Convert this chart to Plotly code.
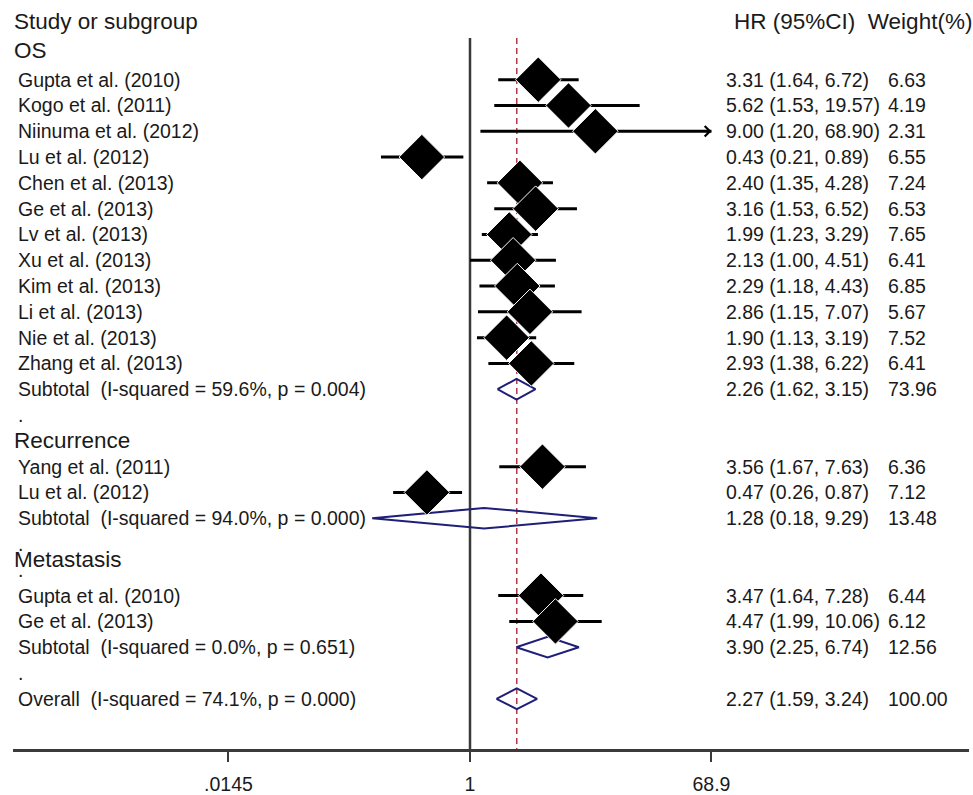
import math
import plotly.graph_objects as go

# ---------------- data ----------------
os_studies = ["Gupta et al. (2010)", "Kogo et al. (2011)", "Niinuma et al. (2012)", "Lu et al. (2012)",
              "Chen et al. (2013)", "Ge et al. (2013)", "Lv et al. (2013)", "Xu et al. (2013)",
              "Kim et al. (2013)", "Li et al. (2013)", "Nie et al. (2013)", "Zhang et al. (2013)"]
os_hr = [3.31, 5.62, 9.00, 0.43, 2.40, 3.16, 1.99, 2.13, 2.29, 2.86, 1.90, 2.93]
os_lo = [1.64, 1.53, 1.20, 0.21, 1.35, 1.53, 1.23, 1.00, 1.18, 1.15, 1.13, 1.38]
os_hi = [6.72, 19.57, 68.90, 0.89, 4.28, 6.52, 3.29, 4.51, 4.43, 7.07, 3.19, 6.22]
os_wt = [6.63, 4.19, 2.31, 6.55, 7.24, 6.53, 7.65, 6.41, 6.85, 5.67, 7.52, 6.41]

rec_studies = ["Yang et al. (2011)", "Lu et al. (2012)"]
rec_hr = [3.56, 0.47]
rec_lo = [1.67, 0.26]
rec_hi = [7.63, 0.87]
rec_wt = [6.36, 7.12]

met_studies = ["Gupta et al. (2010)", "Ge et al. (2013)"]
met_hr = [3.47, 4.47]
met_lo = [1.64, 1.99]
met_hi = [7.28, 10.06]
met_wt = [6.44, 6.12]

subgroup_names = ["OS", "Recurrence", "Metastasis"]
sub_hr = [2.26, 1.28, 3.90]
sub_lo = [1.62, 0.18, 2.25]
sub_hi = [3.15, 9.29, 6.74]
sub_wt = [73.96, 13.48, 12.56]
sub_i2 = [59.6, 94.0, 0.0]
sub_p = [0.004, 0.000, 0.651]

overall_hr = 2.27
overall_lo = 1.59
overall_hi = 3.24
overall_wt = 100.00
overall_i2 = 74.1
overall_p = 0.000

tick_vals = [0.0145, 1, 68.9]
tick_text = [".0145", "1", "68.9"]

# ---------------- layout constants ----------------
W, H = 973, 795
ML, MR, MT, MB = 13, 4, 0, 43
PX_ONE = 470.0
PX_PER_DEC = 131.36
ROW0_PX = 80.0
ROW_H = 25.9

group_start = [0, 15, 20]
heading_rows = [-1.15, 14.0, 18.6]
dot_rows = [13, 18, 19, 23]
overall_row = 24
title_row = -2.24
line_top_row = -1.62
DIAM_H = 0.40

FONT = "Liberation Sans, Arial, sans-serif"
LBL = 19.5
HDR = 22.5
TXT = "#1a1a1a"
NAVY = "#1f1f78"
AXC = "#3a3a3a"

plot_w = W - ML - MR
x_lo = -(PX_ONE - ML) / PX_PER_DEC
x_hi = (W - MR - PX_ONE) / PX_PER_DEC
y_top = (MT - ROW0_PX) / ROW_H
y_bot = (H - MB - ROW0_PX) / ROW_H


def px2paper(px):
    return (px - ML) / plot_w


groups = [
    (os_studies, os_hr, os_lo, os_hi, os_wt),
    (rec_studies, rec_hr, rec_lo, rec_hi, rec_wt),
    (met_studies, met_hr, met_lo, met_hi, met_wt),
]

fig = go.Figure()

# reference line at HR = 1 and dashed overall line
fig.add_trace(go.Scatter(x=[1, 1], y=[line_top_row, y_bot], mode="lines",
                         line=dict(color=AXC, width=2.5), hoverinfo="skip", showlegend=False))
fig.add_trace(go.Scatter(x=[overall_hr, overall_hr], y=[line_top_row, y_bot], mode="lines",
                         line=dict(color="#b03a48", width=1.5, dash="6px,4px"),
                         hoverinfo="skip", showlegend=False))

annotations = []


def add_text(px, row, text, size=LBL, anchor="left"):
    annotations.append(dict(x=px2paper(px), xref="paper", y=row, yref="y", text=text,
                            showarrow=False, xanchor=anchor, yanchor="middle", borderpad=0,
                            font=dict(family=FONT, size=size, color=TXT)))


# summary diamonds
dx, dy = [], []
sum_rows = []
for gi in range(len(groups)):
    r = group_start[gi] + len(groups[gi][0])
    sum_rows.append(r)
all_hr = sub_hr + [overall_hr]
all_lo = sub_lo + [overall_lo]
all_hi = sub_hi + [overall_hi]
all_rows = sum_rows + [overall_row]
for hr, lo, hi, r in zip(all_hr, all_lo, all_hi, all_rows):
    dx += [lo, hr, hi, hr, lo, None]
    dy += [r, r - DIAM_H, r, r + DIAM_H, r, None]
fig.add_trace(go.Scatter(x=dx, y=dy, mode="lines", line=dict(color=NAVY, width=2),
                         hoverinfo="skip", showlegend=False))

# study estimates
sx, sy, ep, em = [], [], [], []
for gi, (names, hr, lo, hi, wt) in enumerate(groups):
    for i in range(len(names)):
        r = group_start[gi] + i
        sx.append(hr[i])
        sy.append(r)
        ep.append(hi[i] - hr[i])
        em.append(hr[i] - lo[i])
        add_text(17, r, names[i])
        add_text(725, r, f"{hr[i]:.2f} ({lo[i]:.2f}, {hi[i]:.2f})")
        add_text(887, r, f"{wt[i]:.2f}")
        if hi[i] >= tick_vals[-1]:
            annotations.append(dict(x=math.log10(hi[i]), y=r, xref="x", yref="y",
                                    ax=math.log10(hi[i]) - 0.05, ay=r, axref="x", ayref="y",
                                    text="", showarrow=True, arrowhead=4, arrowsize=0.8,
                                    arrowwidth=2.5, arrowcolor="black"))
fig.add_trace(go.Scatter(
    x=sx, y=sy, mode="markers",
    marker=dict(symbol="diamond", size=35, color="black", line=dict(color="white", width=1)),
    error_x=dict(type="data", symmetric=False, array=ep, arrayminus=em,
                 color="black", thickness=3, width=0),
    hoverinfo="skip", showlegend=False))

# subgroup headings and subtotal rows
for gi, name in enumerate(subgroup_names):
    add_text(13, heading_rows[gi], name, size=HDR)
    r = sum_rows[gi]
    add_text(17, r, f"Subtotal\u00a0 (I-squared = {sub_i2[gi]:.1f}%, p = {sub_p[gi]:.3f})")
    add_text(725, r, f"{sub_hr[gi]:.2f} ({sub_lo[gi]:.2f}, {sub_hi[gi]:.2f})")
    add_text(887, r, f"{sub_wt[gi]:.2f}")

add_text(17, overall_row, f"Overall\u00a0 (I-squared = {overall_i2:.1f}%, p = {overall_p:.3f})")
add_text(725, overall_row, f"{overall_hr:.2f} ({overall_lo:.2f}, {overall_hi:.2f})")
add_text(887, overall_row, f"{overall_wt:.2f}")

for r in dot_rows:
    add_text(17, r, ".")

add_text(13, title_row, "Study or subgroup", size=HDR)
add_text(733, title_row, "HR (95%CI)\u00a0 Weight(%)", size=HDR)

fig.update_layout(
    width=W, height=H,
    margin=dict(l=ML, r=MR, t=MT, b=MB),
    paper_bgcolor="white", plot_bgcolor="white",
    showlegend=False,
    annotations=annotations,
    xaxis=dict(type="log", range=[x_lo, x_hi], tickvals=tick_vals, ticktext=tick_text,
               showgrid=False, zeroline=False, showline=True, linecolor=AXC, linewidth=2.5,
               ticks="outside", ticklen=10, tickwidth=1.5, tickcolor=AXC,
               tickfont=dict(family=FONT, size=LBL, color=TXT), ticklabelstandoff=6,
               fixedrange=True),
    yaxis=dict(range=[y_bot, y_top], visible=False, showgrid=False, zeroline=False,
               fixedrange=True),
)

fig.write_html("out.html", config={"displayModeBar": False},
               post_script="document.body.style.margin='0px';")
